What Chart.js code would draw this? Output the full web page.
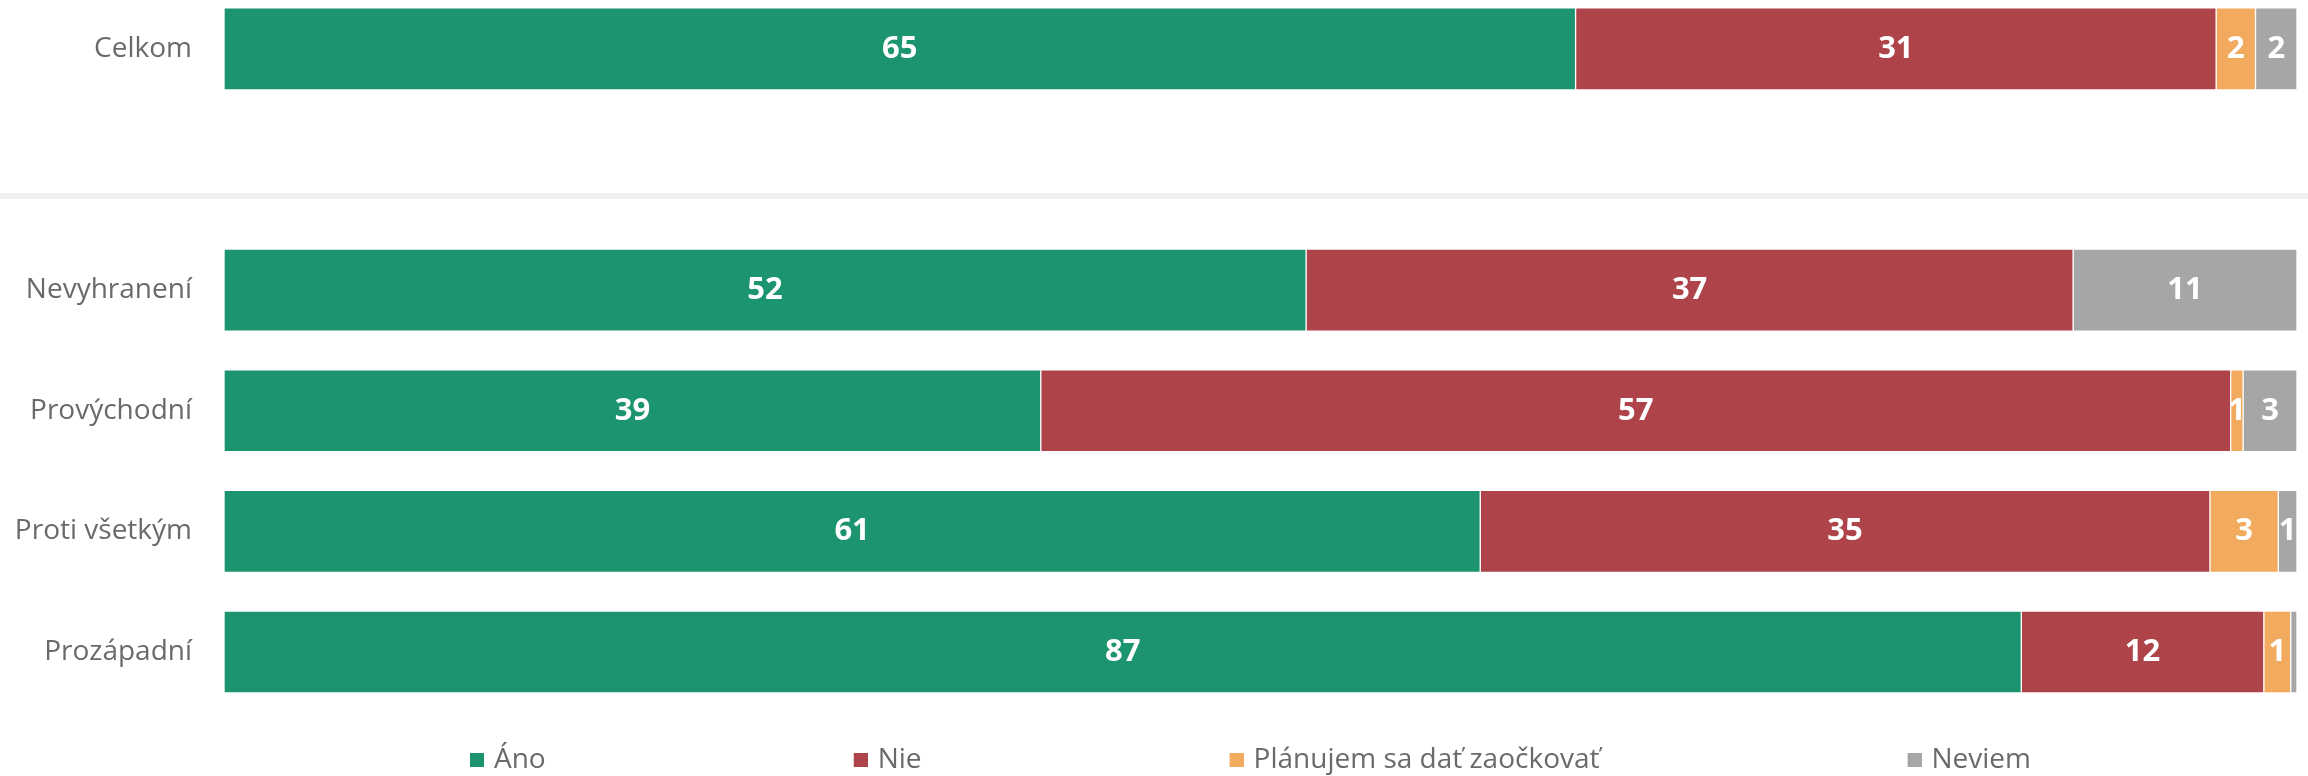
<!DOCTYPE html>
<html><head><meta charset="utf-8">
<script src="https://cdn.jsdelivr.net/npm/chart.js@4/dist/chart.umd.min.js"></script>
<style>html,body{margin:0;padding:0;background:#fff;} #wrap{width:2308px;height:776px;position:relative;}</style>
</head><body><div id="wrap"><canvas id="c"></canvas></div>
<script>
// ---- data ----
const categories = ['Celkom', '', 'Nevyhranení', 'Provýchodní', 'Proti všetkým', 'Prozápadní'];
const seriesNames = ['Áno', 'Nie', 'Plánujem sa dať zaočkovať', 'Neviem'];
const ano      = [65.2, null, 52.2, 39.4, 60.6, 86.7];
const nie      = [30.9, null, 37.0, 57.4, 35.2, 11.7];
const planujem = [1.9,  null, 0,    0.6,  3.3,  1.3];
const neviem   = [2.0,  null, 10.8, 2.6,  0.9,  0.3];
const seriesValues = [ano, nie, planujem, neviem];

// ---- style ----
const colors = ['#1C9470', '#AE434A', '#F2AB5E', '#A6A6A6'];
const textGray = '#6a6a6a';
const FONT = '"Open Sans", "Noto Sans", sans-serif';
const FS = 28;

// legend layout: first swatch near x=470, last swatch near x=1908, label rows centred
const mctx = document.createElement('canvas').getContext('2d');
mctx.font = FS + 'px ' + FONT;
const textW = seriesNames.map(t => mctx.measureText(t).width);
const sumText = textW.reduce((a, b) => a + b, 0);
const firstThree = textW[0] + textW[1] + textW[2];
const legendPad = 94;
const gapAfterText = (1366 - firstThree) / 3;
const padLeft = Math.min(25, Math.round(2 * gapAfterText - 1167 + sumText));
const swatchW = Math.round(gapAfterText + 10 - legendPad);

function legendSwatch(color) {
  // image is 8px wider than the legend box, so the square sits 10px before the text
  const c = document.createElement('canvas');
  c.width = swatchW + 8; c.height = 14;
  const g = c.getContext('2d');
  g.fillStyle = color;
  g.fillRect(c.width - 14, 0, 14, 14);
  return c;
}

const separator = {
  id: 'separator',
  beforeDatasetsDraw(chart) {
    const y = chart.scales.y;
    const y0 = y.getPixelForValue(0), y1 = y.getPixelForValue(1);
    const ly = y0 + (y1 - y0) * 1.22;
    const ctx = chart.ctx;
    ctx.save();
    ctx.fillStyle = '#f0f0f0';
    ctx.fillRect(0, ly - 3, chart.width, 6);
    ctx.restore();
  }
};

const valueLabels = {
  id: 'valueLabels',
  afterDatasetsDraw(chart) {
    const ctx = chart.ctx;
    ctx.save();
    ctx.font = 'bold 31px ' + FONT;
    ctx.fillStyle = '#ffffff';
    ctx.textAlign = 'center';
    ctx.textBaseline = 'middle';
    chart.data.datasets.forEach((ds, i) => {
      const meta = chart.getDatasetMeta(i);
      meta.data.forEach((el, j) => {
        const v = ds.data[j];
        if (v == null || v < 0.5) return;
        const p = el.getCenterPoint();
        ctx.fillText(String(Math.round(v)), p.x, p.y);
      });
    });
    ctx.restore();
  }
};

new Chart(document.getElementById('c'), {
  type: 'bar',
  data: {
    labels: categories,
    datasets: seriesNames.map((name, i) => ({
      label: name,
      data: seriesValues[i],
      backgroundColor: colors[i],
      borderColor: '#ffffff',
      borderWidth: 1,
      borderSkipped: false,
      barThickness: 82,
      clip: false
    }))
  },
  options: {
    indexAxis: 'y',
    responsive: true,
    maintainAspectRatio: false,
    animation: false,
    devicePixelRatio: 1,
    layout: { padding: { left: padLeft, right: 11, top: 47, bottom: -8 } },
    scales: {
      x: {
        stacked: true, min: 0, max: 100,
        display: false
      },
      y: {
        stacked: true,
        offset: false,
        grid: { display: false, drawTicks: false },
        border: { display: false },
        ticks: { color: textGray, font: { family: FONT, size: FS }, padding: 32, autoSkip: false },
        afterFit(s) { s.width = 224 - padLeft; }
      }
    },
    plugins: {
      tooltip: { enabled: false },
      legend: {
        position: 'bottom',
        align: 'center',
        labels: {
          usePointStyle: true,
          pointStyleWidth: swatchW,
          boxHeight: 14,
          padding: legendPad,
          color: textGray,
          font: { family: FONT, size: FS },
          generateLabels(chart) {
            return chart.data.datasets.map((ds, i) => ({
              text: ds.label,
              fillStyle: ds.backgroundColor,
              strokeStyle: ds.backgroundColor,
              lineWidth: 0,
              pointStyle: legendSwatch(ds.backgroundColor),
              fontColor: textGray,
              hidden: false,
              datasetIndex: i
            }));
          }
        }
      }
    }
  },
  plugins: [separator, valueLabels]
});
</script>
</body></html>
